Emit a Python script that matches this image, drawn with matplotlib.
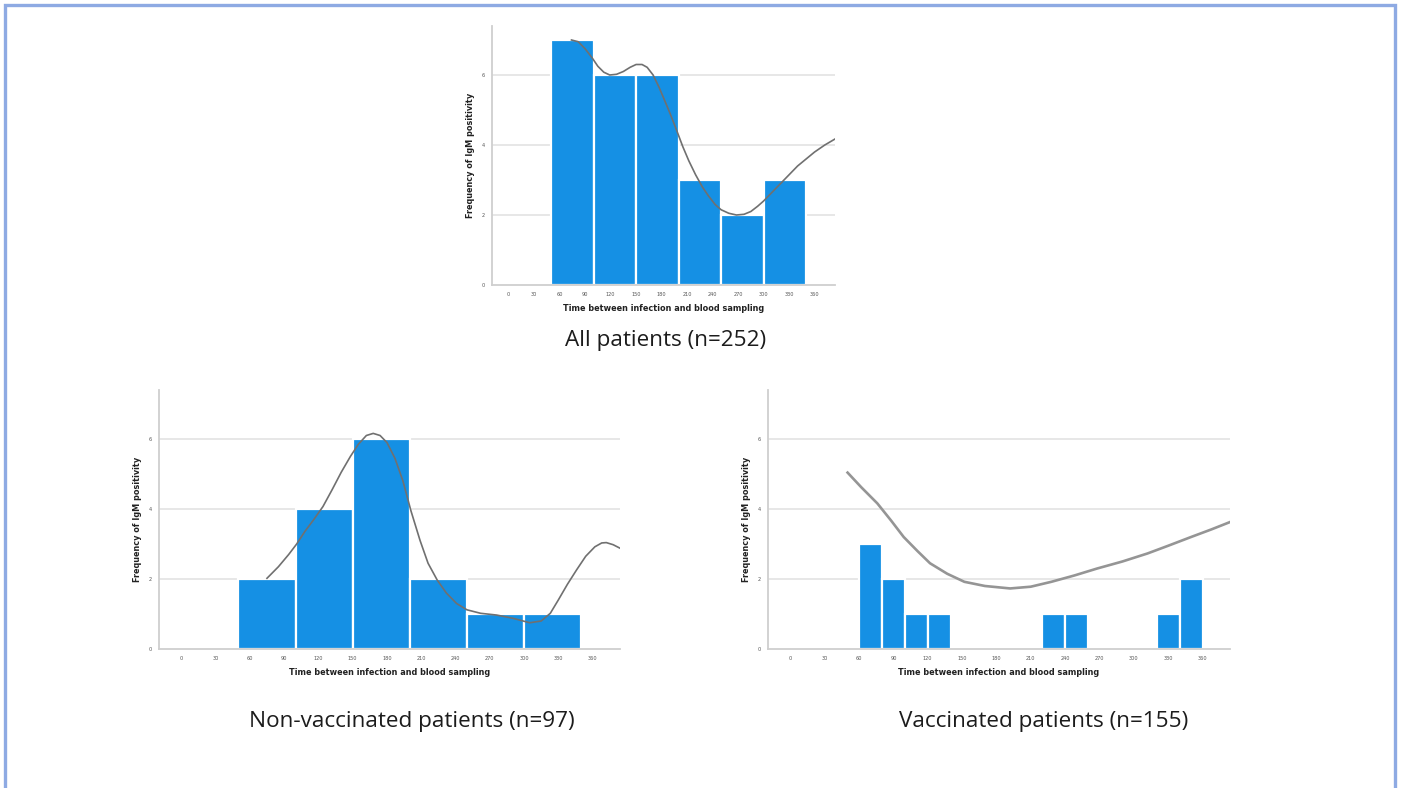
import matplotlib.pyplot as plt
from matplotlib.patches import Rectangle

# Histogram bins (days) and counts of IgM-positive samples
all_edges = [50, 100, 150, 200, 250, 300, 350]
all_counts = [7, 6, 6, 3, 2, 3]

nonvac_edges = [50, 100, 150, 200, 250, 300, 350]
nonvac_counts = [2, 4, 6, 2, 1, 1]

vac_left = [60, 80, 100, 120, 220, 240, 320, 340]
vac_width = 20
vac_counts = [3, 2, 1, 1, 1, 1, 1, 2]

# Smoothed trend curves (day, frequency)
all_curve_x = [74, 82, 90, 98, 105, 112, 119, 127, 135, 143, 150, 157, 163, 170, 177, 184,
               190, 198, 205, 212, 220, 228, 235, 243, 250, 259, 268, 277, 285, 293, 300,
               310, 320, 330, 340, 350, 360, 372, 386]
all_curve_y = [7.0, 6.95, 6.75, 6.5, 6.25, 6.08, 6.0, 6.02, 6.1, 6.22, 6.3, 6.3, 6.22, 6.0,
               5.65, 5.25, 4.9, 4.4, 3.95, 3.55, 3.15, 2.8, 2.55, 2.3, 2.15, 2.05, 2.0, 2.02,
               2.1, 2.25, 2.4, 2.65, 2.9, 3.15, 3.4, 3.6, 3.8, 4.0, 4.2]

nonvac_curve_x = [75, 85, 94, 101, 108, 116, 124, 132, 140, 148, 155, 162, 168, 174, 180,
                  187, 194, 201, 209, 216, 224, 232, 241, 250, 262, 276, 290, 305, 315, 323,
                  330, 338, 346, 354, 362, 368, 372, 378, 384]
nonvac_curve_y = [2.02, 2.35, 2.7, 3.0, 3.35, 3.7, 4.07, 4.55, 5.05, 5.5, 5.85, 6.1, 6.16,
                  6.1, 5.9, 5.45, 4.8, 3.95, 3.1, 2.45, 1.97, 1.6, 1.3, 1.12, 1.02, 0.97,
                  0.88, 0.75, 0.8, 1.02, 1.4, 1.85, 2.26, 2.65, 2.92, 3.03, 3.04, 2.98, 2.88]

vac_curve_x = [50, 62, 76, 88, 99, 111, 122, 137, 152, 170, 192, 210, 228, 248, 268, 290,
               312, 330, 350, 368, 385]
vac_curve_y = [5.04, 4.62, 4.16, 3.67, 3.2, 2.8, 2.45, 2.15, 1.92, 1.8, 1.73, 1.78, 1.92,
               2.1, 2.3, 2.5, 2.73, 2.95, 3.2, 3.42, 3.64]

x_ticks = list(range(0, 361, 30))
y_ticks = [0, 2, 4, 6]

bar_color = "#1590e4"
grid_color = "#e3e3e3"
axis_color = "#cfcfcf"
curve_color = "#707070"

fig = plt.figure(figsize=(14.01, 7.88), dpi=100)
fig.patch.set_facecolor("white")

# light blue frame around the figure
fig.patches.append(Rectangle((4.5 / 1401, -0.05), 1390 / 1401, 1 - 5.5 / 788 + 0.05,
                             transform=fig.transFigure, fill=False,
                             edgecolor="#8eaae3", linewidth=2.4))


def make_axes(rect, lefts, widths, counts, cx, cy, lw=1.2, ccolor=curve_color):
    ax = fig.add_axes(rect)
    ax.bar(lefts, counts, width=widths, align="edge", color=bar_color,
           edgecolor="white", linewidth=1.6, zorder=2)
    ax.plot(cx, cy, color=ccolor, linewidth=lw, zorder=3)
    ax.set_xlim(-19.5, 384)
    ax.set_ylim(0, 7.4)
    ax.set_xticks(x_ticks)
    ax.set_yticks(y_ticks)
    ax.tick_params(length=0, labelsize=3.6, colors="#555555", pad=5)
    for y in y_ticks[1:]:
        ax.axhline(y, color=grid_color, linewidth=1.2, zorder=1)
    for side in ["top", "right"]:
        ax.spines[side].set_visible(False)
    for side in ["left", "bottom"]:
        ax.spines[side].set_color(axis_color)
        ax.spines[side].set_linewidth(1.3)
    ax.set_xlabel("Time between infection and blood sampling", fontsize=5.9,
                  fontweight="bold", color="#222222", labelpad=5)
    ax.set_ylabel("Frequency of IgM positivity", fontsize=5.9,
                  fontweight="bold", color="#222222", labelpad=5)
    return ax


all_widths = [all_edges[i + 1] - all_edges[i] for i in range(len(all_counts))]
nonvac_widths = [nonvac_edges[i + 1] - nonvac_edges[i] for i in range(len(nonvac_counts))]

make_axes([492 / 1401, 1 - 285 / 788, 343 / 1401, 259 / 788],
          all_edges[:-1], all_widths, all_counts, all_curve_x, all_curve_y)
make_axes([159 / 1401, 1 - 649 / 788, 461 / 1401, 259 / 788],
          nonvac_edges[:-1], nonvac_widths, nonvac_counts, nonvac_curve_x, nonvac_curve_y)
make_axes([768 / 1401, 1 - 649 / 788, 462 / 1401, 259 / 788],
          vac_left, vac_width, vac_counts, vac_curve_x, vac_curve_y,
          lw=1.9, ccolor="#959595")

title_kw = dict(fontsize=16.2, family="Open Sans", color="#1c1c1c", ha="center", va="center")
fig.text(666 / 1401, 1 - 340 / 788, "All patients (n=252)", **title_kw)
fig.text(412 / 1401, 1 - 722 / 788, "Non-vaccinated patients (n=97)", **title_kw)
fig.text(1044 / 1401, 1 - 722 / 788, "Vaccinated patients (n=155)", **title_kw)

fig.savefig("out.png", dpi=100)
